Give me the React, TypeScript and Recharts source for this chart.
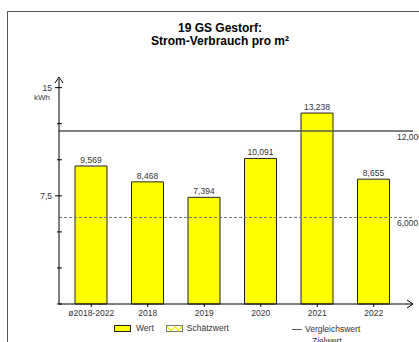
import { BarChart, Bar, XAxis, YAxis, ReferenceLine, LabelList } from "recharts";

const categories = ["ø2018-2022", "2018", "2019", "2020", "2021", "2022"];
const werte = [9.569, 8.468, 7.394, 10.091, 13.238, 8.655];
const yTicks = [0, 2.5, 5, 7.5, 10, 12.5, 15];
const labeledTicks = [7.5, 15];
const vergleichswert = 12;
const zielwert = 6;

const data = categories.map((name, i) => ({ name, wert: werte[i] }));

const FONT = "'Liberation Sans', Arial, sans-serif";
const TXT = "#333";

const fmt3 = (v: number) => v.toFixed(3).replace(".", ",");

function YTick(props: any) {
  const { x, y, payload } = props;
  const major = labeledTicks.includes(payload.value);
  const ax = x + 7;
  return (
    <g>
      <line x1={ax - (major ? 4 : 2)} x2={ax + 3} y1={y} y2={y} stroke="#000" />
      {major && (
        <text x={x} y={y} dy={3} textAnchor="end" fontSize={8.5} fill={TXT} fontFamily={FONT}>
          {String(payload.value).replace(".", ",")}
        </text>
      )}
    </g>
  );
}

function YArrow(props: any) {
  const { x, y, width } = props.viewBox;
  const ax = x + width;
  return (
    <g>
      <path d={`M${ax - 4} ${y + 4} L${ax} ${y - 2} L${ax + 4} ${y + 4}`} fill="none" stroke="#000" />
      <text x={ax - 9} y={y + 21} textAnchor="end" fontSize={8} fill={TXT} fontFamily={FONT}>
        kWh
      </text>
    </g>
  );
}

function XArrow(props: any) {
  const { x, y, width } = props.viewBox;
  const ex = x + width;
  return <path d={`M${ex - 6} ${y - 4} L${ex} ${y} L${ex - 6} ${y + 4}`} fill="none" stroke="#000" />;
}

function RefLabel(props: any) {
  const { x, y, width } = props.viewBox;
  return (
    <text x={x + width - 16} y={y + 9} fontSize={8.5} fill={TXT} fontFamily={FONT}>
      {fmt3(props.value)}
    </text>
  );
}

export default function App() {
  return (
    <div style={{ position: "absolute", left: 0, top: 0, width: 419, height: 342, overflow: "hidden", background: "#fff", fontFamily: FONT }}>
      <div style={{ position: "absolute", left: 7, top: 11, width: 430, height: 360, border: "1px solid #555" }} />
      <div style={{ position: "absolute", left: 0, top: 22, width: 440, textAlign: "center", fontWeight: "bold", fontSize: 12, lineHeight: "13px", color: "#000" }}>
        19 GS Gestorf:
        <br />
        Strom-Verbrauch pro m²
      </div>

      <div style={{ position: "absolute", left: 0, top: 0 }}>
        <BarChart width={419} height={342} data={data} margin={{ top: 79, right: 6, bottom: 8, left: 0 }} barSize={32}>
          <XAxis
            dataKey="name"
            height={30}
            padding={{ left: 4, right: 11 }}
            axisLine={{ stroke: "#000" }}
            tickLine={{ stroke: "#000" }}
            tickSize={3}
            tickMargin={3}
            interval={0}
            tick={{ fontSize: 8.5, fill: TXT, fontFamily: FONT }}
            label={{ content: XArrow }}
          />
          <YAxis
            width={59}
            domain={[0, 15.6]}
            ticks={yTicks}
            interval={0}
            axisLine={{ stroke: "#000" }}
            tickLine={false}
            tickSize={0}
            tickMargin={7}
            tick={YTick}
            label={{ content: YArrow }}
          />
          <ReferenceLine y={vergleichswert} stroke="#555" strokeWidth={1.5} label={{ content: RefLabel, value: vergleichswert }} />
          <ReferenceLine y={zielwert} stroke="#777" strokeDasharray="3 2" label={{ content: RefLabel, value: zielwert }} />
          <Bar dataKey="wert" fill="#ffff00" stroke="#222" strokeWidth={1} isAnimationActive={false}>
            <LabelList dataKey="wert" position="top" offset={3} formatter={(v: any) => fmt3(Number(v))} style={{ fontSize: 8.5, fill: TXT, fontFamily: FONT }} />
          </Bar>
        </BarChart>
      </div>

      {/* Legende */}
      <div style={{ position: "absolute", top: 323, left: 114, fontSize: 8.5, color: TXT, display: "flex", alignItems: "center", whiteSpace: "nowrap" }}>
        <span style={{ width: 15, height: 5, background: "#ffff00", border: "1px solid #222", display: "inline-block" }} />
        <span style={{ marginLeft: 5 }}>Wert</span>
        <svg width={17} height={7} style={{ marginLeft: 12 }}>
          <rect x={0.5} y={0.5} width={16} height={6} fill="#fff" stroke="#777" />
          <path d="M1 1.5 L5 5.5 L9 1.5 L12 5.5 L16 1.5" fill="none" stroke="#ee0" strokeWidth={1.2} />
        </svg>
        <span style={{ marginLeft: 4 }}>Schätzwert</span>
      </div>
      <div style={{ position: "absolute", top: 323, left: 292, fontSize: 8.5, color: TXT, lineHeight: "12px", whiteSpace: "nowrap" }}>
        <span style={{ display: "inline-block", width: 10, height: 0, borderTop: "1.5px solid #555", verticalAlign: "middle" }} />
        <span style={{ marginLeft: 3 }}>Vergleichswert</span>
        <br />
        <span style={{ marginLeft: 20 }}>Zielwert</span>
      </div>
    </div>
  );
}
